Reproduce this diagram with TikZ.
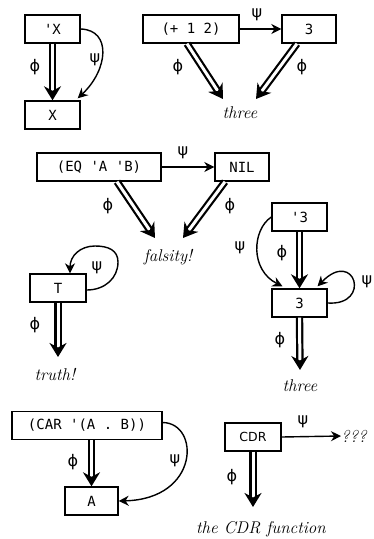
\documentclass[tikz,border=0pt]{standalone}
\usepackage{fontspec}
\setmonofont{DejaVu Sans Mono}
\newfontfamily\grk{DejaVu Sans}
\newfontfamily\sanscdr{DejaVu Sans}
\usetikzlibrary{arrows.meta,calc}
\begin{document}
\begin{tikzpicture}[x=1pt,y=1pt,
 box/.style={draw, line width=1.4pt, minimum height=28pt, inner sep=0pt, font=\fontsize{14}{16}\selectfont\ttfamily},
 lbl/.style={font=\fontsize{16}{18}\selectfont\grk, inner sep=0pt},
 it/.style={font=\fontsize{17}{19}\selectfont\itshape, inner sep=0pt},
 sarr/.style={line width=1.4pt, -{Stealth[length=10pt,width=10pt]}},
 darr/.style={line width=2.2pt, double distance=3pt, -{Stealth[length=14pt,width=17pt]}},
]
\useasboundingbox (0,0) rectangle (374,-539);

% 'X -> X
\node[box, minimum width=55pt] (qx) at (52.5,-29) {'X};
\node[box, minimum width=55pt] (x) at (52.5,-115) {X};
\draw[darr] (qx.south) -- (x.north);
\node[lbl] (phi1) at (35,-67) {ϕ};
\draw[sarr] (qx.east) .. controls (112,-30) and (108,-70) .. ([xshift=-3pt,yshift=2pt]x.north east);
\node[lbl] (psi1) at (95,-60) {ψ};

% (+ 1 2) -> 3
\node[box, minimum width=96pt] (p) at (191,-29) {(+ 1 2)};
\node[box, minimum width=54pt] (p3) at (309,-29) {3};
\draw[sarr] (p.east) -- (p3.west);
\node[lbl] (psi2) at (257,-15) {ψ};
\node[it] (th1) at (240,-113) {three};
\coordinate (th1l) at (223,-99);
\coordinate (th1r) at (256,-99);
\draw[darr] ([xshift=-4pt]p.south) -- (th1l);
\draw[darr] ([xshift=-12pt]p3.south) -- (th1r);
\node[lbl] (phi2) at (178,-67) {ϕ};
\node[lbl] (phi3) at (302,-67) {ϕ};

% (EQ 'A 'B) -> NIL
\node[box, minimum width=124pt] (eq) at (99,-167) {(EQ 'A 'B)};
\node[box, minimum width=54pt] (nil) at (242,-167) {NIL};
\draw[sarr] (eq.east) -- (nil.west);
\node[lbl] (psi3) at (183,-153) {ψ};
\node[it] (fal) at (168,-257) {falsity!};
\coordinate (fall) at (155,-238);
\coordinate (falr) at (183,-238);
\draw[darr] ([xshift=18pt]eq.south) -- (fall);
\draw[darr] ([xshift=-17pt]nil.south) -- (falr);
\node[lbl] (phi4) at (108,-206) {ϕ};
\node[lbl] (phi5) at (230,-206) {ϕ};

% T
\node[box, minimum width=56pt] (t) at (58,-288) {T};
\node[it] (tru) at (55,-375) {truth!};
\coordinate (trut) at (58,-357);
\draw[darr] (t.south) -- (trut);
\node[lbl] (phi6) at (35,-325) {ϕ};
\draw[sarr] ([yshift=-2pt]t.east) .. controls (105,-290) and (118,-278) .. (118,-262)
  .. controls (118,-250) and (108,-246) .. (95,-246)
  .. controls (80,-246) and (70,-256) .. ([xshift=12pt]t.north);
\node[lbl] (psi4) at (97,-268) {ψ};

% '3 -> 3
\node[box, minimum width=55pt] (q3) at (299.5,-217) {'3};
\node[box, minimum width=55pt] (t3) at (299.5,-303) {3};
\draw[darr] (q3.south) -- (t3.north);
\node[lbl] (phi7) at (282,-253) {ϕ};
\draw[sarr] (q3.west) .. controls (252,-230) and (250,-270) .. ([xshift=-17pt,yshift=2pt]t3.north);
\node[lbl] (psi5) at (240,-248) {ψ};
\draw[sarr] (t3.east) .. controls (372,-306) and (355,-248) .. ([xshift=18pt,yshift=2pt]t3.north);
\node[lbl] (psi6) at (367,-282) {ψ};
\node[it] (th2) at (300,-386) {three};
\coordinate (th2t) at (300,-370);
\draw[darr] (t3.south) -- (th2t);
\node[lbl] (phi8) at (280,-340) {ϕ};

% (CAR '(A . B)) -> A
\node[box, minimum width=150pt] (car) at (87,-425.5) {(CAR '(A . B))};
\node[box, minimum width=53pt] (a) at (91.5,-501) {A};
\draw[darr] (car.south -| a.north) -- (a.north);
\node[lbl] (phi9) at (73,-462) {ϕ};
\draw[sarr] ([yshift=3pt]car.east) .. controls (200,-423) and (200,-499) .. (a.east);
\node[lbl] (psi7) at (175,-461) {ψ};

% CDR
\node[box, minimum width=56pt, font=\fontsize{12.5}{14}\selectfont\sanscdr] (cdr) at (253,-437) {CDR};
\node[it, anchor=west] (qq) at (341,-436) {???};
\draw[sarr] (cdr.east) -- (qq.west);
\node[lbl] (psi8) at (303,-422) {ψ};
\node[it] (cdrf) at (261,-529) {the CDR function};
\coordinate (cdrb) at (253,-507);
\draw[darr] (cdr.south) -- (cdrb);
\node[lbl] (phi10) at (232,-477) {ϕ};
\end{tikzpicture}
\end{document}
